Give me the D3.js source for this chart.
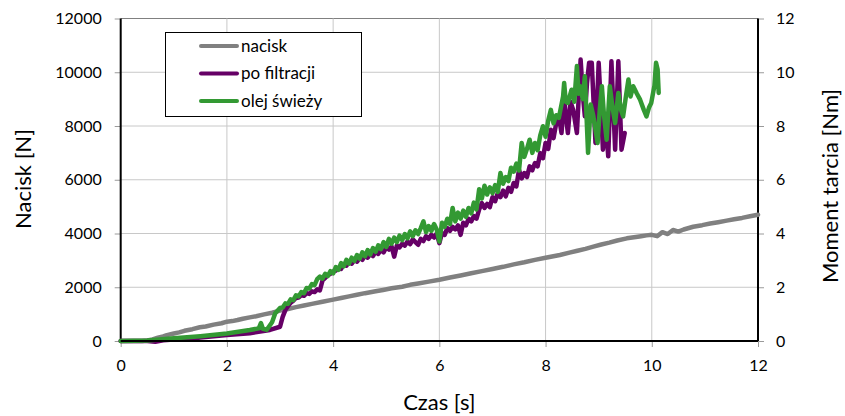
<!DOCTYPE html>
<html>
<head>
<meta charset="utf-8">
<script src="https://cdn.jsdelivr.net/npm/d3@7"></script>
<style>
  body { margin: 0; background: #fff; }
  text { font-family: Lato, "Open Sans", sans-serif; fill: #000; }
</style>
</head>
<body>
<svg id="chart" width="845" height="416"></svg>
<script>
// czas [s], nacisk [N]
const nacisk = [[0,0],[0.4,0],[0.5,20],[0.6,60],[0.7,120],[0.8,170],[0.87,220],[1.0,280],[1.1,320],[1.2,380],[1.35,440],[1.49,510],[1.6,540],[1.75,610],[1.9,660],[2.0,720],[2.1,740],[2.2,780],[2.3,830],[2.43,880],[2.55,920],[2.7,990],[2.85,1050],[3.0,1130],[3.15,1190],[3.3,1260],[3.45,1320],[3.6,1380],[3.8,1460],[4.0,1540],[4.15,1600],[4.3,1660],[4.45,1720],[4.6,1780],[4.8,1850],[4.94,1900],[5.1,1960],[5.3,2020],[5.45,2090],[5.6,2140],[5.8,2210],[6.0,2280],[6.2,2360],[6.4,2440],[6.6,2520],[6.8,2600],[7.0,2680],[7.2,2760],[7.4,2850],[7.6,2930],[7.8,3020],[8.0,3100],[8.27,3200],[8.45,3290],[8.6,3360],[8.75,3430],[8.9,3510],[9.05,3590],[9.2,3660],[9.35,3740],[9.53,3820],[9.7,3870],[9.8,3900],[9.9,3930],[10.0,3950],[10.1,3900],[10.2,4050],[10.3,3980],[10.4,4130],[10.5,4070],[10.6,4150],[10.78,4250],[10.95,4310],[11.1,4370],[11.25,4420],[11.41,4480],[11.55,4530],[11.7,4580],[11.85,4640],[12.0,4700]];

// czas [s], moment tarcia [Nm]
const poFiltracji = [[0,0],[0.5,0.0],[0.65,-0.03],[0.8,0.03],[1.0,0.06],[1.2,0.05],[1.5,0.13],[2.0,0.22],[2.43,0.29],[2.81,0.41],
    [3.00,0.53],[3.05,0.90],[3.10,1.15],[3.15,1.30],[3.20,1.42],[3.25,1.50],[3.30,1.60],[3.35,1.62],[3.40,1.70],[3.45,1.68],
    [3.50,1.78],[3.55,1.75],[3.60,1.85],[3.65,1.82],[3.70,1.92],[3.75,1.88],[3.80,2.25],[3.85,2.35],[3.90,2.45],[3.95,2.50],
    [4.00,2.58],[4.05,2.62],[4.10,2.72],[4.15,2.68],[4.20,2.85],[4.25,2.80],[4.30,2.95],[4.35,2.88],[4.40,3.02],[4.45,2.95],
    [4.50,3.10],[4.55,3.02],[4.60,3.18],[4.65,3.10],[4.70,3.25],[4.75,3.16],[4.80,3.32],[4.85,3.24],[4.90,3.40],[4.95,3.30],
    [5.00,3.48],[5.05,3.40],[5.10,3.52],[5.15,3.14],[5.20,3.55],[5.25,3.48],[5.30,3.62],[5.35,3.55],[5.40,3.70],[5.45,3.60],
    [5.50,3.78],[5.55,3.68],[5.60,3.58],[5.65,3.80],[5.70,3.72],[5.75,3.90],[5.80,3.80],[5.85,3.95],[5.90,3.85],[5.95,4.00],
    [6.00,3.64],[6.05,4.02],[6.10,3.95],[6.15,4.20],[6.20,4.10],[6.25,4.25],[6.30,4.15],[6.35,4.30],[6.40,3.95],[6.45,4.40],
    [6.50,4.30],[6.55,4.55],[6.60,4.45],[6.65,4.65],[6.70,4.55],[6.75,4.90],[6.80,5.13],[6.85,4.95],[6.90,5.10],[6.95,4.98],
    [7.00,5.35],[7.05,5.20],[7.10,5.50],[7.15,5.35],[7.20,5.60],[7.25,5.38],[7.30,5.70],[7.35,5.55],[7.40,5.88],[7.45,5.75],
    [7.50,6.37],[7.55,6.05],[7.60,6.25],[7.65,6.10],[7.70,6.50],[7.75,6.35],[7.80,6.62],[7.85,6.50],[7.90,6.99],[7.95,6.80],
    [8.00,7.37],[8.05,7.15],[8.10,7.86],[8.15,7.55],[8.20,8.10],[8.25,8.36],[8.30,7.74],
    [8.35,8.98],[8.42,7.74],[8.47,8.9],[8.52,8.6],[8.59,7.74],[8.66,10.47],[8.70,9.2],[8.74,8.36],[8.78,9.6],[8.82,10.35],[8.87,10.35],
    [8.94,7.37],[9.0,10.35],[9.04,8.8],[9.08,7.12],[9.13,8.2],[9.18,6.87],[9.24,10.41],[9.31,7.12],[9.37,10.41],[9.43,7.12],[9.49,7.74]];

const olejSwiezy = [[0,0],[0.5,0.02],[1.0,0.1],[1.5,0.18],[2.0,0.28],[2.43,0.41],[2.6,0.47],[2.64,0.67],[2.68,0.45],[2.75,0.42],[2.85,0.7],[2.91,1.03],
    [3.00,1.23],[3.05,1.25],[3.10,1.40],[3.15,1.38],[3.20,1.55],[3.25,1.52],[3.30,1.70],[3.35,1.66],[3.40,1.82],[3.45,1.78],
    [3.50,1.97],[3.55,1.95],[3.60,2.12],[3.65,2.08],[3.70,2.30],[3.75,2.40],[3.80,2.32],[3.85,2.50],[3.90,2.42],[3.95,2.60],
    [4.00,2.52],[4.05,2.75],[4.10,2.65],[4.15,2.90],[4.20,2.78],[4.25,3.02],[4.30,2.88],[4.35,3.10],[4.40,2.98],[4.45,3.20],
    [4.50,3.06],[4.55,3.30],[4.60,3.15],[4.65,3.38],[4.70,3.22],[4.75,3.46],[4.80,3.32],[4.85,3.56],[4.90,3.42],[4.95,3.68],
    [5.00,3.50],[5.05,3.80],[5.10,3.62],[5.15,3.85],[5.20,3.68],[5.25,3.92],[5.30,3.75],[5.35,3.98],[5.40,3.82],[5.45,4.08],
    [5.50,3.90],[5.55,4.12],[5.60,3.98],[5.65,4.20],[5.70,4.45],[5.75,4.05],[5.80,4.28],[5.85,4.10],[5.90,4.35],[5.95,4.15],
    [6.00,3.70],[6.05,4.40],[6.10,4.25],[6.15,4.55],[6.20,4.35],[6.25,4.95],[6.30,4.45],[6.35,4.78],[6.40,4.55],[6.45,4.85],
    [6.50,4.62],[6.55,4.95],[6.60,4.75],[6.65,5.15],[6.70,4.90],[6.75,5.65],[6.80,5.30],[6.85,5.78],[6.90,5.45],[6.95,5.72],
    [7.00,5.50],[7.05,5.80],[7.10,5.55],[7.15,6.25],[7.20,5.85],[7.25,6.10],[7.30,5.95],[7.35,6.45],[7.40,6.30],[7.45,6.60],
    [7.50,6.35],[7.55,7.37],[7.60,6.85],[7.65,7.15],[7.70,7.49],[7.75,7.00],[7.80,7.37],[7.85,7.10],[7.90,7.65],[7.95,7.99],
    [8.00,7.60],[8.05,8.20],[8.10,8.60],[8.15,8.10],[8.20,8.40],[8.25,8.30],
    [8.33,9.1],[8.35,9.6],[8.38,8.9],[8.42,8.86],[8.49,9.35],[8.54,8.9],[8.59,10.23],[8.62,9.2],[8.65,9.48],[8.70,9.0],[8.74,9.85],[8.8,7.0],
    [8.85,8.8],[8.9,8.36],[8.98,7.37],[9.02,8.6],[9.06,9.48],[9.10,8.4],[9.15,7.49],[9.21,9.48],[9.26,8.7],[9.31,8.11],[9.37,9.23],[9.42,8.6],
    [9.46,8.36],[9.52,9.2],[9.56,9.73],[9.60,9.1],[9.65,9.48],[9.72,9.2],[9.78,8.98],[9.85,8.6],[9.9,8.36],[9.95,8.7],[9.99,8.86],
    [10.05,9.5],[10.08,10.35],[10.11,10.1],[10.13,9.23]];

const xTicks = [0, 2, 4, 6, 8, 10, 12];
const leftTicks = [0, 2000, 4000, 6000, 8000, 10000, 12000];
const rightTicks = [0, 2, 4, 6, 8, 10, 12];

const series = [
    { name: "nacisk", data: nacisk, axis: "left", color: "#808080" },
    { name: "po filtracji", data: poFiltracji, axis: "right", color: "#660066" },
    { name: "olej świeży", data: olejSwiezy, axis: "right", color: "#339933" }
];

let svg = d3.select("#chart");
let plotLeft = 120.7, plotRight = 758, plotTop = 18.5, plotBottom = 341;

let x = d3.scaleLinear().domain([0, 12]).range([plotLeft, plotRight]);
let yLeft = d3.scaleLinear().domain([0, 12000]).range([plotBottom, plotTop]);
let yRight = d3.scaleLinear().domain([0, 12]).range([plotBottom, plotTop]);

// siatka
let grid = svg.append("g");
grid.selectAll(".h")
    .data(leftTicks.slice(1))
    .enter()
    .append("line")
    .attr("x1", plotLeft).attr("x2", plotRight)
    .attr("y1", d => yLeft(d)).attr("y2", d => yLeft(d))
    .attr("stroke", d => d == 12000 ? "#808080" : "#c8c8c8")
    .attr("stroke-width", 1);
grid.selectAll(".v")
    .data(xTicks.slice(1, -1))
    .enter()
    .append("line")
    .attr("y1", plotTop).attr("y2", plotBottom)
    .attr("x1", d => x(d)).attr("x2", d => x(d))
    .attr("stroke", "#c8c8c8")
    .attr("stroke-width", 1);

// osie
let xAxis = svg.append("g")
    .attr("transform", "translate(0," + plotBottom + ")")
    .call(d3.axisBottom(x).tickValues(xTicks).tickSize(6).tickPadding(14));
let lAxis = svg.append("g")
    .attr("transform", "translate(" + plotLeft + ",0)")
    .call(d3.axisLeft(yLeft).tickValues(leftTicks).tickFormat(d3.format("d")).tickSize(6).tickPadding(13));
let rAxis = svg.append("g")
    .attr("transform", "translate(" + plotRight + ",0)")
    .call(d3.axisRight(yRight).tickValues(rightTicks).tickSize(6).tickPadding(12));

[xAxis, lAxis, rAxis].forEach(a => {
    a.select(".domain").remove();
    a.selectAll(".tick line").attr("stroke", "#9a9a9a");
    a.selectAll("text").style("font-size", "16px").attr("font-family", null);
});
xAxis.selectAll("text").attr("dy", "0.6em");

svg.append("line").attr("x1", plotLeft).attr("x2", plotLeft).attr("y1", plotTop).attr("y2", plotBottom)
    .attr("stroke", "#000").attr("stroke-width", 2);
svg.append("line").attr("x1", plotRight).attr("x2", plotRight).attr("y1", plotTop).attr("y2", plotBottom)
    .attr("stroke", "#000").attr("stroke-width", 2);

// linie
series.forEach(s => {
    let yScale = s.axis == "left" ? yLeft : yRight;
    let line = d3.line()
        .x(d => x(d[0]))
        .y(d => yScale(d[1]));
    svg.append("path")
        .datum(s.data)
        .attr("d", line)
        .attr("fill", "none")
        .attr("stroke", s.color)
        .attr("stroke-width", 4.5)
        .attr("stroke-linejoin", "round")
        .attr("stroke-linecap", "round");
});

svg.append("line").attr("x1", plotLeft).attr("x2", plotRight).attr("y1", plotBottom).attr("y2", plotBottom)
    .attr("stroke", "#000").attr("stroke-width", 2);

// tytuły osi
svg.append("text")
    .attr("x", x(6)).attr("y", 410)
    .attr("text-anchor", "middle")
    .style("font-size", "22px")
    .text("Czas [s]");
svg.append("text")
    .attr("transform", "translate(31,179) rotate(-90)")
    .attr("text-anchor", "middle")
    .style("font-size", "22px")
    .text("Nacisk [N]");
svg.append("text")
    .attr("transform", "translate(838,186) rotate(-90)")
    .attr("text-anchor", "middle")
    .style("font-size", "22px")
    .text("Moment tarcia [Nm]");

// legenda
let legend = svg.append("g");
legend.append("rect")
    .attr("x", 165.5).attr("y", 32.5)
    .attr("width", 196).attr("height", 84)
    .attr("fill", "#fff").attr("stroke", "#000").attr("stroke-width", 1);
let items = legend.selectAll(".item")
    .data(series)
    .enter()
    .append("g")
    .attr("transform", (d, i) => "translate(0," + (46 + i * 27.5) + ")");
items.append("line")
    .attr("x1", 201).attr("x2", 237)
    .attr("stroke", d => d.color)
    .attr("stroke-width", 4)
    .attr("stroke-linecap", "round");
items.append("text")
    .attr("x", 241).attr("dy", "0.35em")
    .style("font-size", "17px")
    .text(d => d.name);
</script>
</body>
</html>
